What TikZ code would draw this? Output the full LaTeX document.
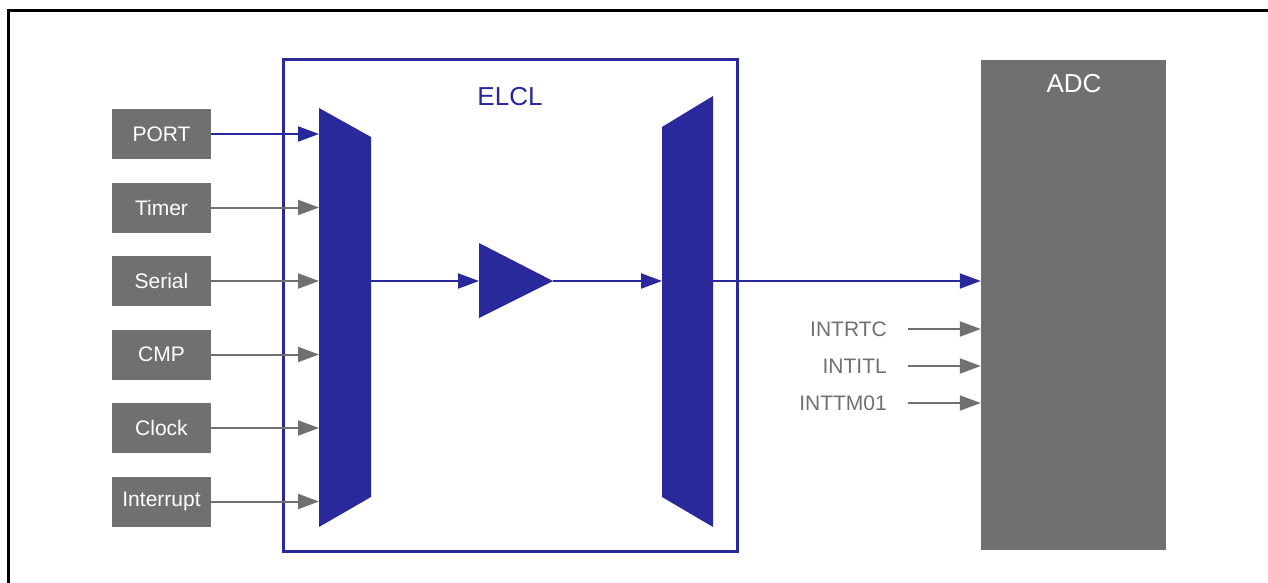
\documentclass[tikz,border=0pt]{standalone}
\usepackage{fontspec}
\setmainfont{Liberation Sans}
\usetikzlibrary{arrows.meta}
\definecolor{elblue}{RGB}{41,41,155}
\definecolor{elgray}{RGB}{112,112,112}
\begin{document}
\begin{tikzpicture}[x=1pt,y=-1pt,
  srcbox/.style={fill=elgray,draw=none,minimum width=99pt,minimum height=50pt,inner sep=0pt,text=white,font=\fontsize{21}{25}\selectfont},
  garrow/.style={draw=elgray,line width=2pt,-{Triangle[length=21pt,width=15pt]}},
  barrow/.style={draw=elblue,line width=2pt,-{Triangle[length=21pt,width=15pt]}},
  sig/.style={text=elgray,font=\fontsize{21}{25}\selectfont,anchor=east,inner sep=0pt}]
\useasboundingbox (0,0) rectangle (1268,583);
% outer frame (top and left)
\draw[line width=3pt] (8,583) -- (8,11) -- (1268,11);
% ELCL box
\draw[elblue,line width=3pt] (283,60) rectangle (737,551);
\node[text=elblue,font=\fontsize{26}{30}\selectfont] (elcl) at (510,97) {ELCL};
% left mux
\fill[elblue] (319,108) -- (371,137) -- (371,497) -- (319,527) -- cycle;
\coordinate (muxL) at (319,281);
\coordinate (muxLo) at (371,281);
% buffer
\fill[elblue] (479,243) -- (553,281) -- (479,318) -- cycle;
\coordinate (bufin) at (479,281);
\coordinate (bufout) at (553,281);
% right mux
\fill[elblue] (662,127) -- (713,96) -- (713,527) -- (662,497) -- cycle;
\coordinate (muxR) at (662,281);
\coordinate (muxRo) at (713,281);
% ADC
\node[fill=elgray,minimum width=185pt,minimum height=490pt,inner sep=0pt] (adc) at (1073.5,305) {};
\node[text=white,font=\fontsize{26}{30}\selectfont] (adct) at (1074,84) {ADC};
% source boxes
\node[srcbox] (port) at (161.5,134) {PORT};
\node[srcbox] (timer) at (161.5,207.5) {Timer};
\node[srcbox] (serial) at (161.5,281) {Serial};
\node[srcbox] (cmp) at (161.5,354.5) {CMP};
\node[srcbox] (clock) at (161.5,428) {Clock};
\node[srcbox] (intr) at (161.5,501.5) {Interrupt};
\draw[barrow] (port.east) -- (port.east -| muxL);
\draw[garrow] (timer.east) -- (timer.east -| muxL);
\draw[garrow] (serial.east) -- (serial.east -| muxL);
\draw[garrow] (cmp.east) -- (cmp.east -| muxL);
\draw[garrow] (clock.east) -- (clock.east -| muxL);
\draw[garrow] (intr.east) -- (intr.east -| muxL);
% main path
\draw[barrow] (muxLo) -- (bufin);
\draw[barrow] (bufout) -- (muxR);
\draw[barrow] (muxRo) -- (muxRo -| adc.west);
% interrupt signals
\node[sig] (rtc) at (887,329) {INTRTC};
\node[sig] (itl) at (887,366) {INTITL};
\node[sig] (tm) at (887,403) {INTTM01};
\coordinate (rtcs) at (908,329);
\coordinate (itls) at (908,366);
\coordinate (tms) at (908,403);
\draw[garrow] (rtcs) -- (rtcs -| adc.west);
\draw[garrow] (itls) -- (itls -| adc.west);
\draw[garrow] (tms) -- (tms -| adc.west);
\end{tikzpicture}
\end{document}
